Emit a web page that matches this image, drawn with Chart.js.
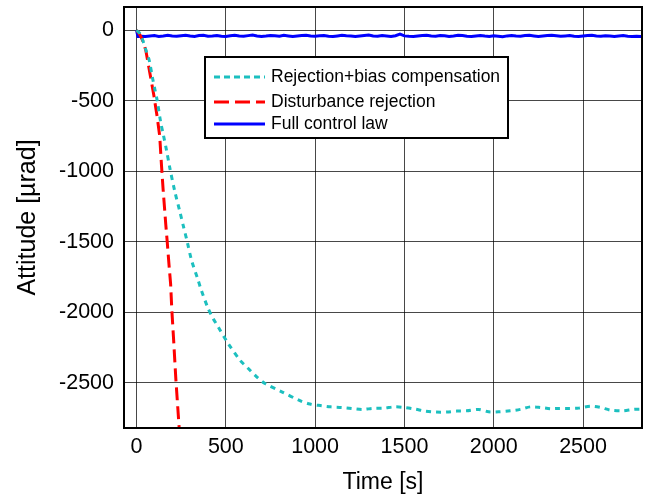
<!DOCTYPE html>
<html><head><meta charset="utf-8">
<script src="https://cdn.jsdelivr.net/npm/chart.js@4/dist/chart.umd.min.js"></script>
<style>html,body{margin:0;padding:0;background:#fff;}</style>
</head><body>
<canvas id="c" width="651" height="501"></canvas>
<script>
// ---- data ----
const seriesLabels = ["Rejection+bias compensation", "Disturbance rejection", "Full control law"];
const xTickValues = [0, 500, 1000, 1500, 2000, 2500];
const yTickValues = [0, -500, -1000, -1500, -2000, -2500];
const xAxisTitle = "Time [s]";
const yAxisTitle = "Attitude [\u00b5rad]";

const tCyan = [0,20,40,55,71,90,103,116,135,150,168,187,215,243,261,284,308,345,359,401,429,457,513,579,626,673,719,813,915,971,1036,1087,1149,1205,1265,1323,1386,1444,1499,1560,1616,1678,1737,1793,1849,1915,1971,2027,2093,2149,2205,2261,2317,2363,2420,2476,2541,2597,2653,2719,2784,2831];
const yCyan = [0,-25,-90,-150,-213,-340,-420,-500,-650,-740,-851,-980,-1147,-1288,-1383,-1501,-1631,-1773,-1830,-1974,-2045,-2104,-2222,-2340,-2400,-2459,-2506,-2565,-2628,-2652,-2664,-2672,-2676,-2683,-2690,-2683,-2681,-2672,-2676,-2688,-2702,-2709,-2709,-2702,-2700,-2690,-2707,-2707,-2700,-2690,-2672,-2676,-2685,-2683,-2683,-2681,-2667,-2676,-2695,-2700,-2690,-2688];

const tRed = [0,10,20,34,52,77,97,116,130,140,149,164,172,183,191,198,208,220,239,250];
const yRed = [0,-15,-35,-71,-142,-319,-461,-617,-752,-960,-1130,-1380,-1501,-1680,-1800,-1990,-2200,-2470,-2825,-3000];

const tBlue = [0,8,25,50,75,100,125,150,175,200,225,250,275,300,325,350,375,400,425,450,475,500,525,550,575,600,625,650,675,700,725,750,775,800,825,850,875,900,925,950,975,1000,1025,1050,1075,1100,1125,1150,1175,1200,1225,1250,1275,1300,1325,1350,1375,1400,1425,1450,1475,1500,1525,1550,1575,1600,1625,1650,1675,1700,1725,1750,1775,1800,1825,1850,1875,1900,1925,1950,1975,2000,2025,2050,2075,2100,2125,2150,2175,2200,2225,2250,2275,2300,2325,2350,2375,2400,2425,2450,2475,2500,2525,2550,2575,2600,2625,2650,2675,2700,2725,2750,2775,2800,2825];
const yBlue = [0,-44,-42,-45,-40,-38,-44,-41,-36,-40,-43,-39,
-35,-41,-44,-38,-36,-42,-40,-37,-43,-45,
-39,-36,-41,-43,-38,-34,-40,-44,-41,-37,
-39,-42,-36,-40,-45,-41,-38,-35,-40,-43,
-39,-37,-42,-44,-40,-36,-39,-41,-45,-40,
-37,-34,-40,-43,-38,-41,-44,-39,-28,-40,
-43,-45,-41,-38,-35,-40,-42,-37,-39,-44,
-41,-36,-38,-43,-45,-40,-37,-41,-44,-39,
-42,-46,-40,-37,-41,-43,-38,-36,-40,-44,
-41,-38,-35,-39,-43,-40,-37,-42,-45,-41,
-38,-36,-40,-43,-39,-41,-44,-40,-37,-42,
-45,-43,-44];

const xRange = [-70, 2830];
const yRange = [-2822, 165];

// ---- chart ----
const FONT = "'Liberation Sans', Arial, sans-serif";
function pts(t, y) { return t.map((v, i) => ({x: v, y: y[i]})); }

const framePlugin = {
  id: 'frame',
  afterDatasetsDraw(chart) {
    const {ctx, chartArea: a} = chart;
    ctx.save();
    ctx.strokeStyle = '#000';
    ctx.lineWidth = 2;
    ctx.strokeRect(a.left, a.top, a.right - a.left, a.bottom - a.top);
    ctx.restore();
  }
};

const legendPlugin = {
  id: 'boxLegend',
  afterDraw(chart) {
    const {ctx} = chart;
    const box = {x: 205, y: 57, w: 303, h: 81};
    const rows = [77, 102, 124];
    ctx.save();
    ctx.fillStyle = '#fff';
    ctx.fillRect(box.x, box.y, box.w, box.h);
    ctx.strokeStyle = '#000';
    ctx.lineWidth = 2;
    ctx.strokeRect(box.x, box.y, box.w, box.h);
    ctx.font = '17.5px ' + FONT;
    ctx.textBaseline = 'middle';
    chart.data.datasets.forEach((ds, i) => {
      const y = rows[i];
      ctx.beginPath();
      ctx.strokeStyle = ds.borderColor;
      ctx.lineWidth = ds.borderWidth;
      ctx.setLineDash(ds.legendDash || []);
      ctx.moveTo(214, y);
      ctx.lineTo(265, y);
      ctx.stroke();
      ctx.setLineDash([]);
      ctx.fillStyle = '#000';
      ctx.fillText(ds.label, 271, y);
    });
    ctx.restore();
  }
};

new Chart(document.getElementById('c'), {
  type: 'line',
  data: {
    datasets: [
      {label: seriesLabels[0], data: pts(tCyan, yCyan), borderColor: '#1cbfbf', borderWidth: 3, borderDash: [5, 5], legendDash: [6, 4], pointRadius: 0, tension: 0.3, fill: false},
      {label: seriesLabels[1], data: pts(tRed, yRed), borderColor: '#ff0000', borderWidth: 3, borderDash: [13, 6], legendDash: [15, 6], pointRadius: 0, tension: 0, fill: false},
      {label: seriesLabels[2], data: pts(tBlue, yBlue), borderColor: '#0000ff', borderWidth: 3, pointRadius: 0, tension: 0, fill: false}
    ]
  },
  options: {
    responsive: false,
    animation: false,
    devicePixelRatio: 1,
    layout: {padding: {left: 0, top: 7, right: 9, bottom: 0}},
    plugins: {legend: {display: false}, tooltip: {enabled: false}},
    scales: {
      x: {
        type: 'linear',
        min: xRange[0], max: xRange[1],
        afterFit(s) { s.height = 73; s.paddingLeft = 0; s.paddingRight = 0; },
        afterBuildTicks(s) { s.ticks = xTickValues.map(v => ({value: v})); },
        grid: {color: 'rgba(0,0,0,0.72)', lineWidth: 1, drawTicks: false},
        border: {display: false},
        ticks: {font: {family: FONT, size: 21.5}, color: '#000', padding: 6, callback: v => String(v), maxRotation: 0},
        title: {display: true, text: xAxisTitle, font: {family: FONT, size: 23}, color: '#000', padding: {top: 0, bottom: 5}}
      },
      y: {
        type: 'linear',
        min: yRange[0], max: yRange[1],
        afterFit(s) { s.width = 124; s.paddingTop = 0; s.paddingBottom = 0; },
        afterBuildTicks(s) { s.ticks = yTickValues.map(v => ({value: v})); },
        grid: {color: 'rgba(0,0,0,0.72)', lineWidth: 1, drawTicks: false},
        border: {display: false},
        ticks: {font: {family: FONT, size: 21.5}, color: '#000', padding: 10, callback: v => String(v)},
        title: {display: true, text: yAxisTitle, font: {family: FONT, size: 25}, color: '#000', padding: {top: 13, bottom: 0}}
      }
    }
  },
  plugins: [framePlugin, legendPlugin]
});
</script>
</body></html>
